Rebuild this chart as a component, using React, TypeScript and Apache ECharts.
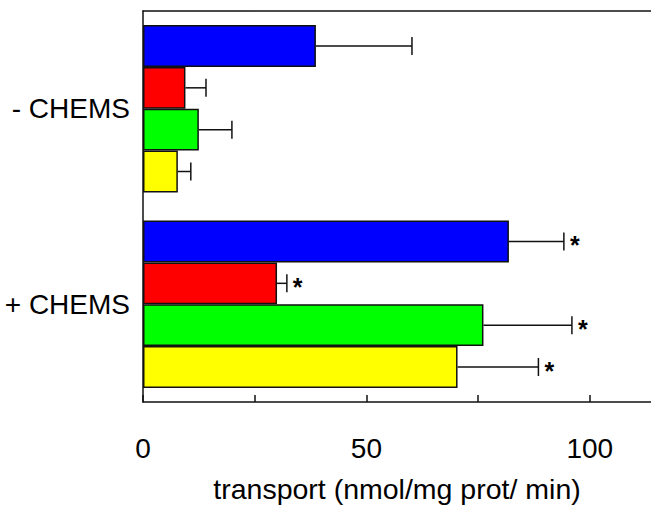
import React, { useEffect, useRef } from "react";
import * as echarts from "echarts";

const categories = ["- CHEMS", "+ CHEMS"];
const seriesNames = ["blue", "red", "green", "yellow"];
const seriesColors = ["#0000ff", "#ff0000", "#00ff00", "#ffff00"];
// values per series: [- CHEMS, + CHEMS]
const blueValues = [38.7, 81.9];
const redValues = [9.5, 30.0];
const greenValues = [12.5, 76.2];
const yellowValues = [7.8, 70.4];
const blueErrors = [21.5, 12.3];
const redErrors = [4.6, 2.2];
const greenErrors = [7.4, 19.8];
const yellowErrors = [2.9, 18.1];
const significant = [
  [false, true],
  [false, true],
  [false, true],
  [false, true],
];
const xTicksLabeled = [0, 50, 100];

const FONT = "'Liberation Sans', Arial, sans-serif";
const GAP = 0.144;

export default function App() {
  const ref = useRef<HTMLDivElement>(null);
  useEffect(() => {
    if (!ref.current) return;
    const chart = echarts.init(ref.current, undefined, { renderer: "svg" });
    const values = [blueValues, redValues, greenValues, yellowValues];
    const errors = [blueErrors, redErrors, greenErrors, yellowErrors];
    const errData: any[] = [];
    values.forEach((vals, s) => {
      vals.forEach((v, c) => {
        errData.push([v, c, errors[s][c], s, significant[s][c] ? 1 : 0]);
      });
    });
    const barSeries = seriesNames.map((name, s) => ({
      type: "bar",
      name,
      data: values[s],
      barGap: "0%",
      barCategoryGap: (GAP * 100).toFixed(1) + "%",
      itemStyle: { color: seriesColors[s], borderColor: "#111", borderWidth: 1.5 },
      z: 2,
    }));
    const option: any = {
      animation: false,
      grid: { left: 143, top: 11, right: 0, bottom: 102 },
      xAxis: [
        {
          type: "value",
          min: 0,
          max: 113.7,
          interval: 25,
          splitLine: { show: false },
          axisLine: { show: true, lineStyle: { color: "#111", width: 1.5 } },
          axisTick: { show: true, inside: true, length: 7, lineStyle: { color: "#111", width: 1.5 } },
          axisLabel: {
            margin: 32,
            fontSize: 28,
            fontFamily: FONT,
            color: "#000",
            showMaxLabel: false,
            formatter: (v: number) => (xTicksLabeled.indexOf(v) >= 0 ? String(v) : ""),
          },
          name: "transport (nmol/mg prot/ min)",
          nameLocation: "middle",
          nameGap: 72,
          nameTextStyle: { fontSize: 28.5, fontFamily: FONT, color: "#000" },
        },
        {
          type: "value",
          position: "top",
          min: 0,
          max: 113.7,
          splitLine: { show: false },
          axisLine: { show: true, lineStyle: { color: "#111", width: 1.5 } },
          axisTick: { show: false },
          axisLabel: { show: false },
        },
      ],
      yAxis: {
        type: "category",
        data: categories,
        inverse: true,
        axisLine: { show: true, lineStyle: { color: "#111", width: 1.5 } },
        axisTick: { show: false },
        axisLabel: { margin: 13, fontSize: 28, fontFamily: FONT, color: "#000" },
      },
      series: [
        ...barSeries,
        {
          type: "custom",
          data: errData,
          z: 3,
          renderItem: (params: any, api: any) => {
            const v = api.value(0);
            const c = api.value(1);
            const e = api.value(2);
            const s = api.value(3);
            const star = api.value(4);
            const bw = api.size([0, 1])[1];
            const inner = bw * (1 - GAP);
            const barH = inner / 4;
            const center = api.coord([0, c])[1];
            const y = center - inner / 2 + barH * (s + 0.5);
            const x1 = api.coord([v, c])[0];
            const x2 = api.coord([v + e, c])[0];
            const stroke = { stroke: "#111", lineWidth: 1.5 };
            const children: any[] = [
              { type: "line", shape: { x1, y1: y, x2, y2: y }, style: stroke },
              { type: "line", shape: { x1: x2, y1: y - 9, x2, y2: y + 9 }, style: stroke },
            ];
            if (star) {
              children.push({
                type: "text",
                style: {
                  text: "*",
                  x: x2 + 6,
                  y: y + 4,
                  fontSize: 25,
                  fontWeight: "bold",
                  fontFamily: FONT,
                  fill: "#000",
                  verticalAlign: "middle",
                  align: "left",
                },
              });
            }
            return { type: "group", children };
          },
        },
      ],
    };
    chart.setOption(option);
    return () => chart.dispose();
  }, []);
  return (
    <div
      ref={ref}
      style={{ position: "fixed", left: 0, top: 0, width: 651, height: 508, background: "#fff" }}
    />
  );
}
